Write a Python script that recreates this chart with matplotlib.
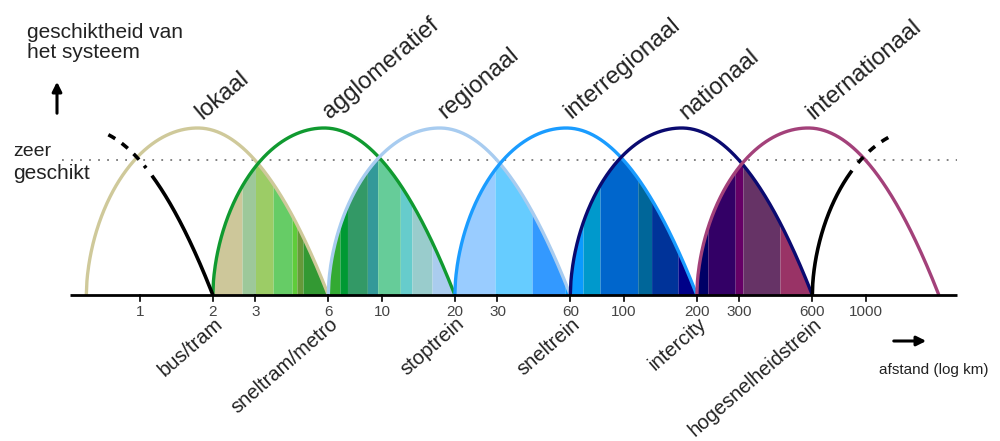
import numpy as np
import matplotlib.pyplot as plt

plt.rcParams['font.family'] = ['Liberation Sans', 'DejaVu Sans']

# ---- data ----
arc_names = ['lokaal', 'agglomeratief', 'regionaal', 'interregionaal', 'nationaal', 'internationaal']
arc_start = [0.6, 2, 6, 20, 60, 200]        # km
arc_end = [6, 20, 60, 200, 600, 2000]       # km
arc_colors = ['#cfc99a', '#109a30', '#a8ccf0', '#1a9cff', '#0a0a70', '#a3417a']

# black partial arcs at both ends (only parts are drawn)
side_start = [0.2, 600]
side_end = [2, 6000]
side_solid = [(1.12, 2), (600, 875)]
side_dashed = [(0.74, 1.06), (927, 1294)]

transport = ['bus/tram', 'sneltram/metro', 'stoptrein', 'sneltrein', 'intercity', 'hogesnelheidstrein']
transport_km = [2, 6, 20, 60, 200, 600]

tick_values = [1, 2, 3, 6, 10, 20, 30, 60, 100, 200, 300, 600, 1000]

band_edges = [
    [2, 2.64, 3.0, 3.55, 4.25, 4.45, 4.72, 6],
    [6, 6.7, 7.2, 8.7, 9.6, 11.9, 13.3, 16.1, 20],
    [20, 29.3, 41.7, 57, 60],
    [60, 67.7, 79.6, 114, 130, 167, 200],
    [200, 222, 288, 310, 441, 600],
]
band_colors = [
    ['#cdc79a', '#9dc89a', '#9ccc66', '#66cc66', '#5fcc3a', '#66993a', '#339933'],
    ['#33aa33', '#009933', '#339966', '#339999', '#66cc99', '#66cccc', '#99cccc', '#aaccee'],
    ['#99ccff', '#66ccff', '#3399ff', '#0099ff'],
    ['#0a9aff', '#0099cc', '#0066cc', '#006699', '#003399', '#000088'],
    ['#000066', '#330066', '#660066', '#663366', '#993366'],
]

very_suitable = 0.81   # height of the dotted "zeer geschikt" line
peak_pos = 0.46        # relative (log) position of the top of each arc


def arc(x, lo, hi):
    # skewed arch in log-distance: steep rise, parabolic fall
    t = np.log(x / lo) / np.log(hi / lo)
    t = np.clip(t, 0, 1)
    y = np.empty_like(t)
    left = t <= peak_pos
    u = (peak_pos - t[left]) / peak_pos
    y[left] = np.clip(1 - u ** 2, 0, None) ** 0.55
    u = (t[~left] - peak_pos) / (1 - peak_pos)
    y[~left] = 1 - u ** 2
    return y


W, H = 1000, 441
fig = plt.figure(figsize=(W / 100, H / 100), dpi=100)
ax = fig.add_axes([0, 0, 1, 1])
ax.set_xscale('log')
ax.set_xlim(10 ** (-140 / 242), 10 ** (860 / 242))
ax.set_ylim(-(H - 295) / 167, 295 / 167)
ax.axis('off')

# coloured stripes in the overlap of two neighbouring arcs
for k in range(len(band_edges)):
    edges = band_edges[k]
    for j in range(len(edges) - 1):
        xs = np.geomspace(edges[j], edges[j + 1], 60)
        ys = np.minimum(arc(xs, arc_start[k], arc_end[k]),
                        arc(xs, arc_start[k + 1], arc_end[k + 1]))
        ax.fill_between(xs, 0, ys, color=band_colors[k][j], lw=0, zorder=1)

# arcs
for lo, hi, c in zip(arc_start, arc_end, arc_colors):
    xs = np.geomspace(lo, hi, 400)
    ax.plot(xs, arc(xs, lo, hi), color=c, lw=2.4, zorder=3, solid_capstyle='butt')

for lo, hi, sol, das in zip(side_start, side_end, side_solid, side_dashed):
    xs = np.geomspace(sol[0], sol[1], 200)
    ax.plot(xs, arc(xs, lo, hi), color='black', lw=2.6, zorder=3, solid_capstyle='butt')
    xs = np.geomspace(das[0], das[1], 200)
    ax.plot(xs, arc(xs, lo, hi), color='black', lw=2.6, zorder=3,
            linestyle=(0, (2.2, 2.2)), dash_capstyle='butt')

# dotted "zeer geschikt" level
ax.plot([10 ** ((62 - 140) / 242), 10 ** ((957 - 140) / 242)], [very_suitable] * 2,
        color='#777777', lw=1.3, linestyle=(0, (1, 4)), zorder=2)

# x axis line and ticks
ax.plot([10 ** ((70 - 140) / 242), 10 ** ((957 - 140) / 242)], [0, 0],
        color='black', lw=2.0, zorder=5, solid_capstyle='butt')
for v in tick_values:
    ax.plot([v, v], [0, -0.035], color='black', lw=1.2, zorder=5)
    ax.text(v, -0.10, str(v), ha='center', va='center', fontsize=11, color='#444444')

# arc names above each arc
for name, lo, hi in zip(arc_names, arc_start, arc_end):
    xp = lo * (hi / lo) ** peak_pos * 1.05
    ax.text(xp, 1.05, name, rotation=40, rotation_mode='anchor', ha='left',
            va='baseline', fontsize=17, color='#222222')

# transport modes below the axis
for name, km in zip(transport, transport_km):
    ax.text(km * 1.01, -0.115, name, rotation=41, rotation_mode='anchor',
            ha='right', va='top', fontsize=14.5, color='#222222')

# texts and arrows in figure pixels
fig.text(27 / W, 1 - 33 / H, 'geschiktheid van', ha='left', va='center',
         fontsize=15, color='#222222')
fig.text(27 / W, 1 - 53 / H, 'het systeem', ha='left', va='center',
         fontsize=15, color='#222222')
fig.text(13 / W, 1 - 152 / H, 'zeer', ha='left', va='center', fontsize=14, color='#222222')
fig.text(13 / W, 1 - 173 / H, 'geschikt', ha='left', va='center', fontsize=15, color='#222222')
fig.text(934 / W, 1 - 370 / H, 'afstand (log km)', ha='center', va='center',
         fontsize=11, color='#222222')

ax.annotate('', xy=(57 / W, 1 - 79 / H), xytext=(57 / W, 1 - 116 / H),
            xycoords='figure fraction', textcoords='figure fraction',
            arrowprops=dict(arrowstyle='-|>', color='black', lw=2.2, mutation_scale=14))
ax.annotate('', xy=(929 / W, 1 - 341 / H), xytext=(891 / W, 1 - 341 / H),
            xycoords='figure fraction', textcoords='figure fraction',
            arrowprops=dict(arrowstyle='-|>', color='black', lw=2.2, mutation_scale=14))

fig.savefig('out.png', dpi=100)
